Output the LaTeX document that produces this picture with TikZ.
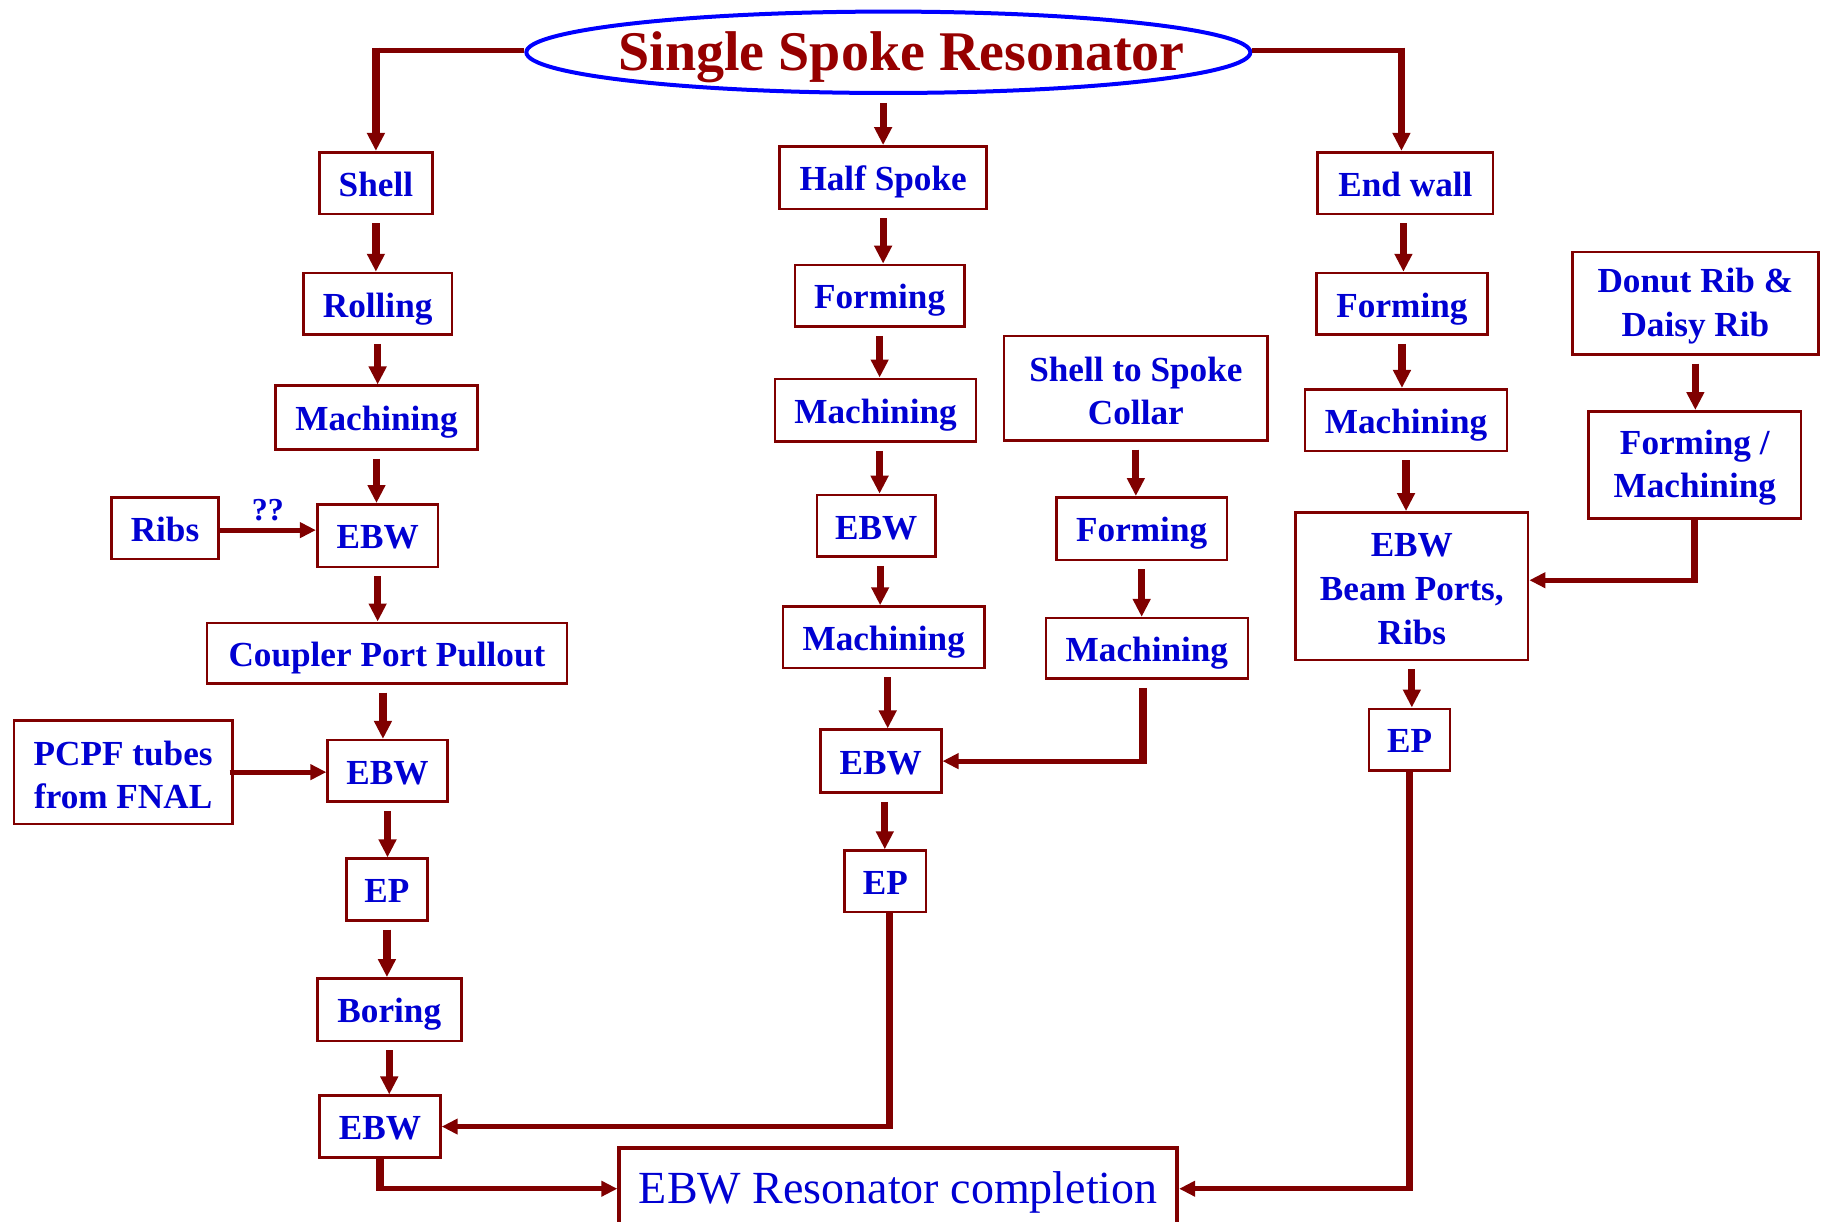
\documentclass[tikz,border=0pt]{standalone}
\usepackage{fontspec}
\setmainfont{Liberation Serif}
\usetikzlibrary{arrows.meta,shapes.geometric}
\definecolor{dred}{RGB}{128,0,0}
\definecolor{tred}{RGB}{150,0,0}
\definecolor{tblue}{RGB}{0,0,210}
\definecolor{eblue}{RGB}{0,0,255}
\newcommand\bx[6]{\node[box, minimum width={(#4-#2)*0.581pt}, minimum height={(#5-#3)*0.581pt}] (#1) at ({(#2+#4)/2},{(#3+#5)/2}) {#6};}
\newcommand\bxm[6]{\node[box, minimum width={(#4-#2)*0.581pt}, minimum height={(#5-#3)*0.581pt}] (#1) at ({(#2+#4)/2},{(#3+#5)/2}) {};
  \node[boxtext] (#1t) at ([yshift=-1.5pt]#1.center) {#6};}
\newcommand\vh[3]{\draw[vline, shorten >=-1.3pt] #1 -- #2; \draw[harr] #2 -- #3;}
\newcommand\hv[3]{\draw[hline, shorten >=-1.8pt] #1 -- #2; \draw[varr, shorten <=-1.3pt] #2 -- #3;}
\begin{document}
\begin{tikzpicture}[x=0.581pt,y=-0.581pt,
  boxtext/.style={inner sep=0pt, align=center, text=tblue, font=\bfseries\fontsize{17.6}{21.8}\selectfont},
  box/.style={boxtext, draw=dred, line width=1.3pt, text height=13.2pt, text depth=0pt},
  vline/.style={draw=dred, line width=3.6pt},
  hline/.style={draw=dred, line width=2.6pt},
  varr/.style={vline, -{Triangle[length=9pt,width=8.5pt]}},
  harr/.style={hline, -{Triangle[length=8pt,width=7.5pt]}},
  gap/.style={shorten <=4pt}]
\useasboundingbox (0,0) rectangle (1568,1051);
\node[ellipse, draw=eblue, line width=2pt, inner sep=0pt, minimum width=362pt, minimum height=40.7pt] (title) at (764.5,45) {};
\node[anchor=base, inner sep=0pt, text=tred, font=\bfseries\fontsize{28}{30}\selectfont] (ttext) at (776,61) {Single Spoke Resonator};
% left column
\bx{shell}{275}{131}{372}{184}{Shell}
\bx{rolling}{261}{235}{389}{288}{Rolling}
\bx{machl}{237}{332}{411}{387}{Machining}
\bx{ribs}{96}{428}{188}{481}{Ribs}
\bx{ebwa}{273}{434}{377}{488}{EBW}
\bx{coupler}{178}{536}{488}{588}{Coupler Port Pullout}
\bxm{pcpf}{12}{620}{200}{709}{PCPF tubes\\from FNAL}
\bx{ebwb}{282}{637}{385}{690}{EBW}
\bx{epl}{298}{739}{368}{792}{EP}
\bx{boring}{273}{842}{397}{896}{Boring}
\bx{ebwc}{275}{943}{379}{996}{EBW}
\node[draw=dred, line width=2pt, inner sep=0pt, text=tblue, font=\fontsize{23}{26}\selectfont,
  text height=15pt, text depth=0pt,
  minimum width={480*0.581pt}, minimum height={70*0.581pt}] (comp) at (773,1023) {EBW Resonator completion};
% middle column
\bx{half}{671}{126}{849}{180}{Half Spoke}
\bx{formm}{684}{228}{830}{281}{Forming}
\bx{machm}{667}{326}{840}{380}{Machining}
\bx{ebwm}{703}{426}{805}{479}{EBW}
\bx{machmb}{674}{522}{847}{575}{Machining}
\bx{ebwmb}{706}{628}{810}{682}{EBW}
\bx{epm}{727}{732}{797}{785}{EP}
\bxm{collar}{864}{289}{1091}{379}{Shell to Spoke\\Collar}
\bx{formc}{909}{428}{1056}{482}{Forming}
\bx{machc}{900}{532}{1074}{584}{Machining}
% right column
\bx{endw}{1134}{131}{1285}{184}{End wall}
\bx{formr}{1133}{235}{1280}{288}{Forming}
\bx{machr}{1123}{335}{1297}{388}{Machining}
\bxm{ebwr}{1115}{441}{1315}{568}{EBW\\Beam Ports,\\Ribs}
\bx{epr}{1178}{610}{1248}{663}{EP}
\bxm{donut}{1353}{217}{1565}{305}{Donut Rib \&\\Daisy Rib}
\bxm{fm}{1367}{354}{1550}{446}{Forming /\\Machining}
% corner coordinates
\coordinate (ewn) at ([xshift=-2pt]endw.north);
\coordinate (cshell) at ([yshift=1pt]title.west -| shell.north);
\coordinate (cendw) at ([yshift=1pt]title.east -| ewn);
\coordinate (cmach) at ([xshift=-2pt]machc.south |- ebwmb.east);
\coordinate (cepm) at ([xshift=2pt]epm.south |- ebwc.east);
\coordinate (cfm) at ([yshift=3pt]ebwr.east -| fm.south);
\coordinate (cebwc) at (ebwc.south |- comp.west);
\coordinate (cepr) at (epr.south |- comp.east);
% connectors from title
\hv{([yshift=1pt]title.west)}{(cshell)}{(shell.north)}
\draw[varr,gap] (title.south -| half.north) -- (half.north);
\hv{([yshift=1pt]title.east)}{(cendw)}{(ewn)}
% left chain
\draw[varr,gap] (shell.south) -- (shell.south |- rolling.north);
\draw[varr,gap] (rolling.south) -- (rolling.south |- machl.north);
\draw[varr,gap] (machl.south) -- (machl.south |- ebwa.north);
\draw[varr,gap] (ebwa.south) -- (ebwa.south |- coupler.north);
\draw[varr,gap] ([xshift=-2pt]coupler.south) -- ([xshift=-2pt]coupler.south |- ebwb.north);
\draw[varr,gap] (ebwb.south) -- (ebwb.south |- epl.north);
\draw[varr,gap] (epl.south) -- (epl.south |- boring.north);
\draw[varr,gap] (boring.south) -- (boring.south |- ebwc.north);
\draw[harr] ([yshift=-1pt]ribs.east) -- ([yshift=-1pt]ribs.east -| ebwa.west) node[midway, above=0pt, text=tblue, font=\bfseries\fontsize{16}{18}\selectfont] {??};
\draw[harr] ([xshift=-2pt]pcpf.east) -- (pcpf.east -| ebwb.west);
% middle chain
\draw[varr,gap] (half.south) -- (half.south |- formm.north);
\draw[varr,gap] (formm.south) -- (formm.south |- machm.north);
\draw[varr,gap] ([xshift=2pt]machm.south) -- ([xshift=2pt]machm.south |- ebwm.north);
\draw[varr,gap] ([xshift=2pt]ebwm.south) -- ([xshift=2pt]ebwm.south |- machmb.north);
\draw[varr,gap] ([xshift=2pt]machmb.south) -- ([xshift=2pt]machmb.south |- ebwmb.north);
\draw[varr,gap] ([xshift=2pt]ebwmb.south) -- ([xshift=2pt]ebwmb.south |- epm.north);
\draw[varr,gap] (collar.south) -- (collar.south |- formc.north);
\draw[varr,gap] (formc.south) -- (formc.south |- machc.north);
\draw[vline, shorten <=4pt, shorten >=-1.3pt] ([xshift=-2pt]machc.south) -- (cmach);
\draw[harr] (cmach) -- (ebwmb.east);
\draw[vline, shorten >=-1.3pt] ([xshift=2pt]epm.south) -- (cepm);
\draw[harr] (cepm) -- (ebwc.east);
% right chain
\draw[varr,gap] ([xshift=-1pt]endw.south) -- ([xshift=-1pt]endw.south |- formr.north);
\draw[varr,gap] (formr.south) -- (formr.south |- machr.north);
\draw[varr,gap] (machr.south) -- (machr.south |- ebwr.north);
\draw[varr,gap] (donut.south) -- (donut.south |- fm.north);
\vh{(fm.south)}{(cfm)}{(cfm -| ebwr.east)}
\draw[varr,gap] (ebwr.south) -- (ebwr.south |- epr.north);
% to completion
\vh{(ebwc.south)}{(cebwc)}{(comp.west)}
\vh{(epr.south)}{(cepr)}{(comp.east)}
\end{tikzpicture}
\end{document}
